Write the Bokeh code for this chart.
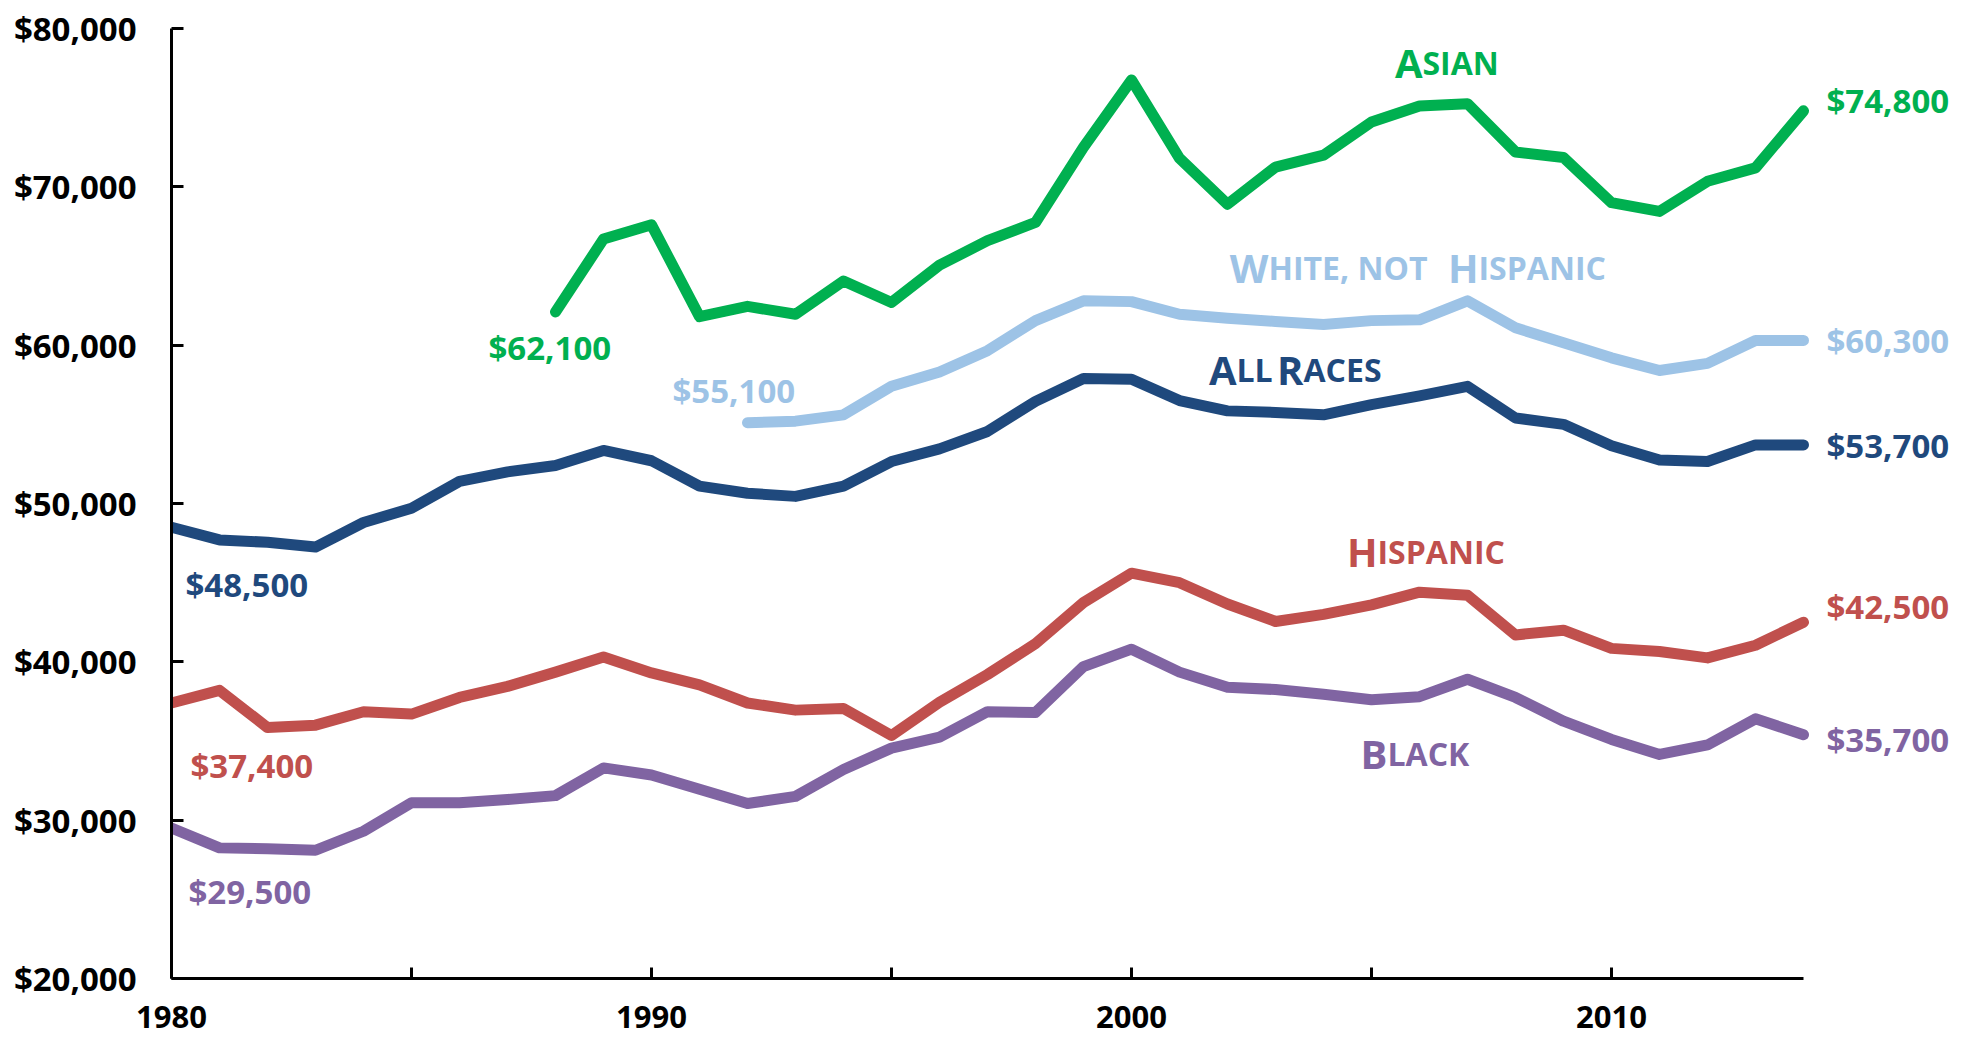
from bokeh.plotting import figure
from bokeh.models import Range1d, FixedTicker, NumeralTickFormatter, Label
from bokeh.embed import file_html
from bokeh.resources import INLINE

# ---------------- data ----------------
years_all = list(range(1980, 2015))
years_asian = list(range(1988, 2015))
years_white = list(range(1992, 2015))

all_races = [48500, 47700, 47550, 47250, 48800, 49700, 51400, 52000, 52400, 53350,
             52700, 51100, 50650, 50450, 51100, 52650, 53450, 54550, 56450, 57900,
             57850, 56500, 55850, 55750, 55600, 56250, 56800, 57400, 55400, 55000,
             53650, 52750, 52650, 53700, 53700]
asian = [62100, 66700, 67600, 61800, 62450, 61950, 64050, 62700, 65050, 66600,
         67750, 72500, 76750, 71800, 68900, 71250, 72000, 74100, 75100, 75250,
         72200, 71850, 69000, 68450, 70350, 71200, 74800]
white_nh = [55100, 55200, 55600, 57400, 58300, 59650, 61550, 62800, 62750, 61950,
            61700, 61500, 61300, 61550, 61600, 62800, 61100, 60150, 59200, 58400,
            58850, 60300, 60300]
hispanic = [37400, 38200, 35850, 36000, 36850, 36700, 37750, 38450, 39350, 40300,
            39300, 38550, 37400, 36950, 37050, 35350, 37450, 39200, 41150, 43750,
            45600, 45000, 43650, 42550, 43000, 43600, 44400, 44200, 41700, 42000,
            40850, 40650, 40250, 41050, 42500]
black = [29500, 28250, 28200, 28100, 29300, 31100, 31100, 31300, 31550, 33300,
         32850, 31950, 31050, 31500, 33200, 34550, 35250, 36850, 36800, 39700,
         40800, 39350, 38400, 38250, 37950, 37600, 37800, 38900, 37750, 36250,
         35100, 34150, 34750, 36400, 35400]

x_ticks = [1980, 1985, 1990, 1995, 2000, 2005, 2010]
x_tick_labels = ["1980", "", "1990", "", "2000", "", "2010"]
y_ticks = [20000, 30000, 40000, 50000, 60000, 70000, 80000]

start_labels = {"asian": "$62,100", "white": "$55,100", "all": "$48,500",
                "hispanic": "$37,400", "black": "$29,500"}
end_labels = {"asian": "$74,800", "white": "$60,300", "all": "$53,700",
              "hispanic": "$42,500", "black": "$35,700"}

# ---------------- styles ----------------
C = {"asian": "#00B050", "white": "#9DC3E6", "all": "#1F497D",
     "hispanic": "#C0504D", "black": "#8064A2"}
FONT = "Open Sans"
BIG = "40px"
SMALL = "32px"
VAL = "33px"

p = figure(width=1960, height=1040, output_backend="svg", toolbar_location=None,
           x_range=Range1d(1980, 2017.1667), y_range=Range1d(20000, 80000),
           min_border_left=171, min_border_right=5, min_border_top=28,
           min_border_bottom=62)
p.outline_line_color = None
p.grid.visible = False
p.background_fill_color = "white"
p.border_fill_color = "white"

for ax in (p.xaxis[0], p.yaxis[0]):
    ax.axis_line_width = 3
    ax.axis_line_color = "black"
    ax.major_tick_line_width = 3
    ax.major_tick_line_color = "black"
    ax.major_tick_out = 0
    ax.minor_tick_line_color = None
    ax.major_label_text_font = FONT
    ax.major_label_text_font_style = "bold"
    ax.major_label_text_color = "black"

p.xaxis[0].bounds = (1980, 2014)
p.xaxis[0].ticker = FixedTicker(ticks=x_ticks)
p.xaxis[0].major_label_overrides = {t: l for t, l in zip(x_ticks, x_tick_labels)}
p.xaxis[0].major_tick_in = 11
p.xaxis[0].major_label_standoff = 27
p.xaxis[0].major_label_text_font_size = "31px"

p.yaxis[0].ticker = FixedTicker(ticks=y_ticks)
p.yaxis[0].formatter = NumeralTickFormatter(format="$0,0")
p.yaxis[0].major_tick_in = 12
p.yaxis[0].major_label_standoff = 35
p.yaxis[0].major_label_text_font_size = "33px"

series = [("asian", years_asian, asian), ("white", years_white, white_nh),
          ("all", years_all, all_races), ("hispanic", years_all, hispanic),
          ("black", years_all, black)]
for key, xs, ys in series:
    p.line(xs, ys, line_color=C[key], line_width=11, line_join="round", line_cap="round")

# pixel (page) -> data helpers for annotation placement
SHIFT = -12  # correction for baseline placement

def X(px):
    return 1980 + (px - 171) / 48.0

def Y(py):
    return 20000 + (978 - (py + SHIFT)) * 10000 / 158.33

def lab(x, y, text, color, size, align="left"):
    p.add_layout(Label(x=x, y=y, text=text, text_color=color, text_font=FONT,
                       text_font_size=size, text_font_style="bold",
                       text_align=align, text_baseline="alphabetic"))

# value labels
start_pos = {"asian": (488, 359), "white": (672, 402), "all": (185, 596),
             "hispanic": (190, 777), "black": (188, 903)}
end_pos = {"asian": 112, "white": 352, "all": 457, "hispanic": 618, "black": 751}
for key in C:
    sx, sy = start_pos[key]
    lab(X(sx), Y(sy), start_labels[key], C[key], VAL)
    lab(X(1826), Y(end_pos[key]), end_labels[key], C[key], VAL)

# small-caps series names: (big letter, rest) split at a boundary
names = {
    "asian": (74, [(1422, "A", "SIAN")]),
    "white": (279, [(1268, "W", "HITE, NOT"), (1478, "H", "ISPANIC")]),
    "all": (381, [(1236, "A", "LL"), (1303, "R", "ACES")]),
    "hispanic": (563, [(1377, "H", "ISPANIC")]),
    "black": (765, [(1387, "B", "LACK")]),
}
for key, (base, parts) in names.items():
    for bx, big, rest in parts:
        lab(X(bx), Y(base), big, C[key], BIG, align="right")
        lab(X(bx), Y(base), rest, C[key], SMALL, align="left")

open("out.html", "w").write(file_html(p, INLINE))
